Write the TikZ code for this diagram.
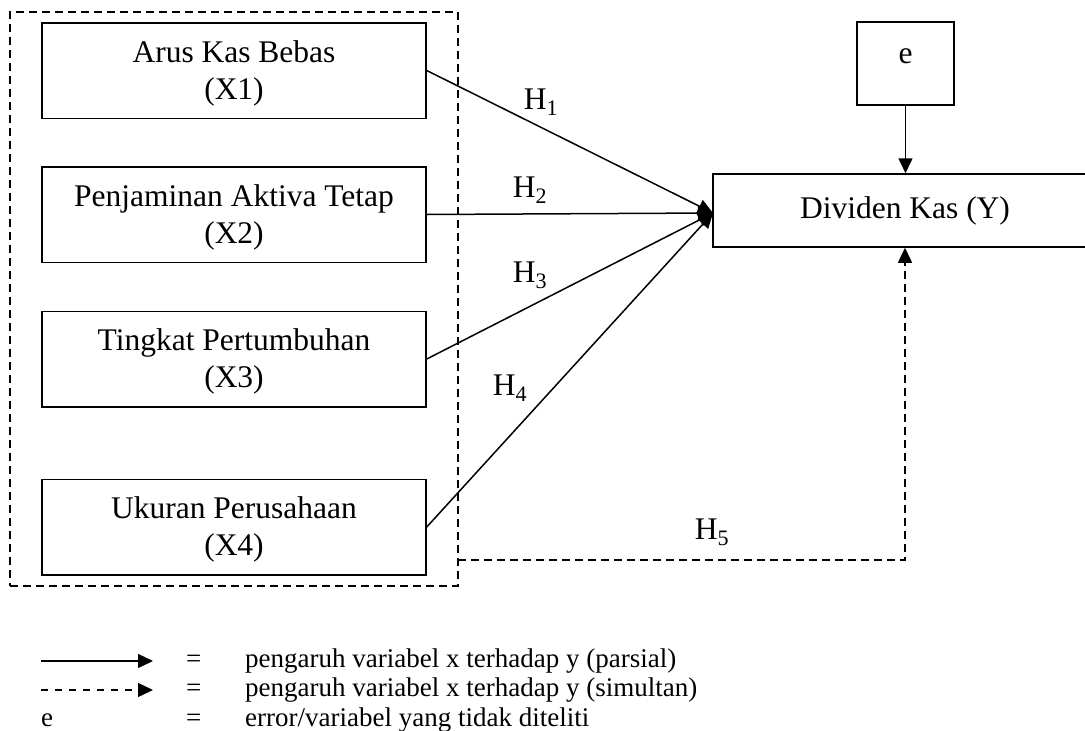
\documentclass[tikz,border=0pt]{standalone}
\usepackage{fontspec}
\setmainfont{Liberation Serif}
\usetikzlibrary{arrows.meta,calc}
\newcommand{\tstrut}{\rule{0pt}{27pt}}
\begin{document}
\begin{tikzpicture}[x=1pt,y=-1pt,
  box/.style={draw,line width=1.5pt,inner sep=0pt,align=center,
    font=\fontsize{31.5}{37}\selectfont},
  xbox/.style={box,minimum width=384pt,minimum height=95.5pt},
  lbl/.style={font=\fontsize{31.5}{37}\selectfont,inner sep=0pt},
  leg/.style={font=\fontsize{27}{30}\selectfont,inner sep=0pt,anchor=base west},
  arr/.style={line width=1.5pt,-{Triangle[length=15pt,width=14pt]}},
  dsh/.style={line width=1.5pt,dash pattern=on 8pt off 5pt},
]
\useasboundingbox (0,0) rectangle (1085,731);
\clip (0,0) rectangle (1085,731);
% group dashed box
\node[draw,dsh,minimum width=448pt,minimum height=574pt,inner sep=0pt] (grp) at (234,299) {};
% X boxes
\node[xbox] (x1) at (234,70.5) {\tstrut Arus Kas Bebas\\(X1)};
\node[xbox] (x2) at (234,214.5) {\tstrut Penjaminan Aktiva Tetap\\(X2)};
\node[xbox] (x3) at (234,359) {\tstrut Tingkat Pertumbuhan\\(X3)};
\node[xbox] (x4) at (234,527) {\tstrut Ukuran Perusahaan\\(X4)};
% Y and e
\node[box,minimum width=384pt,minimum height=73pt] (y) at (905,210.5) {Dividen Kas (Y)};
\node[box,minimum width=97pt,minimum height=83pt,text height=25pt,text depth=26pt] (e) at (905.5,63.5) {e};
\coordinate (tip) at (713,213);
% arrows
\draw[arr] (x1.east) -- (tip);
\draw[arr] (x2.east) -- (tip);
\draw[arr] (x3.east) -- (tip);
\draw[arr] (x4.east) -- (tip);
\draw[arr] (e.south) -- (e.south |- y.north);
\coordinate (h5s) at (458,560);
\draw[dsh,-{Triangle[length=15pt,width=14pt]}] (h5s) -| (y.south);
% labels
\node[lbl] (h1) at (541,102) {H\textsubscript{1}};
\node[lbl] (h2) at (530,190) {H\textsubscript{2}};
\node[lbl] (h3) at (530,275) {H\textsubscript{3}};
\node[lbl] (h4) at (510,388) {H\textsubscript{4}};
\node[lbl] (h5) at (712,532) {H\textsubscript{5}};
% legend
\coordinate (la1) at (41,661);
\coordinate (lb1) at (153,661);
\coordinate (la2) at (41,690);
\coordinate (lb2) at (153,690);
\draw[line width=1.3pt,-{Triangle[length=15pt,width=14pt]}] (la1) -- (lb1);
\draw[line width=1.3pt,dash pattern=on 7pt off 7pt,-{Triangle[length=15pt,width=14pt]}] (la2) -- (lb2);
\node[leg] (le) at (41,726) {e};
\node[leg] (eq1) at (186,667) {=};
\node[leg] (eq2) at (186,696) {=};
\node[leg] (eq3) at (186,726) {=};
\node[leg] (t1) at (245,667) {pengaruh variabel x terhadap y (parsial)};
\node[leg] (t2) at (245,696) {pengaruh variabel x terhadap y (simultan)};
\node[leg] (t3) at (245,726) {error/variabel yang tidak diteliti};
\end{tikzpicture}
\end{document}
